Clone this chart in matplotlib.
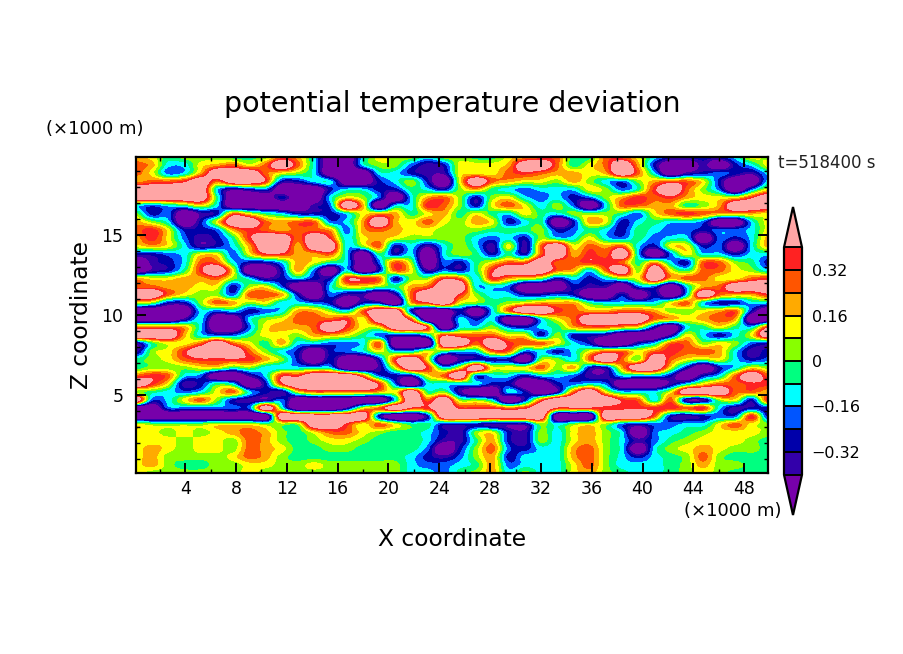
import numpy as np
import matplotlib
matplotlib.use("Agg")
import matplotlib.pyplot as plt
from matplotlib.colors import ListedColormap, BoundaryNorm

# Bin for each grid cell, one string per height (top row first)
theta_rows = [
    "AYGLLLGGLOACVVCYLLCL" "LGGYAOOGGOOYCNNNNCYL",
    "OACCYAOYOPOCVVCLLBIN" "YYYAPPOGYOPANVVIVNCY",
    "OYBCAPPPOYLCVVVCCNII" "YYYOROAAYAPOCVINBNIC",
    "AOORPOPPRNNCCVVNCLNV" "YPOAYYLALCBLAOOYNVVC",
    "PPPPPCINBVVVNCCNNGCN" "LAGCBCCCYLBGRPOLBVBY",
    "PPPPPGVVVNVVCYLBVCAO" "LNLYCBCNBLARORAYYYRP",
    "CBCGYCVVVVVIBPAVCCRO" "LNYOYCLBVCOOAAGLAPPP",
    "LNBVINOYGCNNNCYAAGYA" "GYGCYGCLLLGBYOROAAAY",
    "ALCVNYPPOAOOBCAPAYOY" "LAYNCGVNAYNCGCCBVVCY",
    "ORYNNBAROAOOABAOAYYL" "LLGGGLNBGCNGCBBNBBCY",
    "ARYBINGRPPOPRCYAYLLL" "LCBCNLCCYCBGBCCVBNCA",
    "YAYCINCAPPAPPCLONCIC" "LCIYIOPYOAOCNYYNBVCA",
    "NNBCYYBYRRAAOCVGNCVC" "LGNGNOPAROPCVBYCCNCC",
    "VINCOOCNNCAYGCVBOLVB" "NGYOOPOORROGACNOOLGN",
    "VINGRPYVVNABVCVNOYIB" "NGRPPPOACOPLPYGOOYLC",
    "AYYAAOLCINCNNRRONLLR" "OCRAYLNCNCLYPAOOYYOR",
    "OOAAYYNLYBVVCYYLGAOP" "PCCBVVVNIIVBBVCAOPPP",
    "PPOYLLBOOANVBIIVIOPP" "RLCCNNBNVVNVNVCPOAAR",
    "YLNNLOALYCCBNVNNVARP" "YLGLYAAAGCCCCYOCNNCC",
    "VVVVCBCNBCAALCOPPNVV" "NVCOPPROAAOOALLYAONV",
    "VVVICVVCLYOOORYPPOVV" "CNCVVCYOPPPPOAYAOAVV",
    "OOOACVVBYAAOPRYYPPRV" "CCLBNCGAOOAYNVCGYGCR",
    "PPPACBBGYYLAAYGBNNCR" "OOOYYNLNNIVVVIYCNCYP",
    "IGYYOPOYGACCBBCOVVVP" "POPROOYCNVVNCOOLYLBN",
    "ILYRPPPOLCNVNBCYCCYG" "CCOOBCNCYOOYOROOACIN",
    "GLYORRRRALNVNVVNRPYV" "INNNVLLCOPOLPOYLYCNB",
    "GLLLYYGLCCCCCVVIYPRC" "YPYYYOLANNAPPYNVNCYL",
    "OROCBVVICRRPPPOBNNYO" "PBCCNCCBIICCCNVNCOPO",
    "PRYINGCVNRPPPPPRBVCC" "CCNNVVNBCBVVVICYOORR",
    "LGCBCYOCNIYOOOOAYPGL" "IVVCNVIOPYCCCYPPPOOA",
    "PBCYOLNIIBVVVVVVCPOP" "LLCVNOPPPPROCOIILYNR",
    "VVBBBBBBPGVVVIYOPRRP" "RRRORPRRRRRRRRORCINN",
    "VVVVVVVVVPPPPPPNVVNP" "PPPPPPVVVPPPONINBBRN",
    "YLLLLYYYLLLPPRYOYGGN" "NNIIILCLYLBNBBCCYOYL",
    "YYLYLYAOALGYOOYLGGCN" "ILYNILCYALCVBCGLYYYL",
    "YYYLYYLOALGLYYLGGGCI" "IGANILCYALCIBGLYYYLG",
    "YAYLYYLOAYGGLLGGGGBV" "NLOBNCCAOLCVCLYAYLLG",
    "YALLLLYOALGGGGGGGCNI" "BLANCCCAOLCNCGLOLGGG",
    "YALGGLLYYLLYLLLLLCBB" "CGABCCCYOLCCCGLALLGG",
    "YLLLLLLYLLLLLLLLLCCB" "GLACLCCYALGCCGLYLGGG",
]
# Deviation in kelvin represented by each letter
bin_values = {"P": 0.60, "R": 0.36, "O": 0.28, "A": 0.20, "Y": 0.12, "L": 0.04,
              "G": -0.04, "C": -0.12, "B": -0.20, "N": -0.28, "I": -0.36, "V": -0.60}
levels = [-0.40, -0.32, -0.24, -0.16, -0.08, 0.0, 0.08, 0.16, 0.24, 0.32, 0.40]
inner_colors = ["#3300AA", "#0000AA", "#0055FF", "#00FFFF", "#00FF80",
                "#88FF00", "#FFFF00", "#FFAA00", "#FF5500", "#FF2222"]
under_color = "#7700AA"
over_color = "#FFA5A5"
cbar_ticks = [-0.32, -0.16, 0.0, 0.16, 0.32]
cbar_labels = ["\u22120.32", "\u22120.16", "0", "0.16", "0.32"]
x_ticks = [4, 8, 12, 16, 20, 24, 28, 32, 36, 40, 44, 48]
z_ticks = [5, 10, 15]

W, H = 904, 654
XMIN, XMAX, ZMIN, ZMAX = 0.125, 49.875, 0.125, 19.875
theta = np.array([[bin_values[c] for c in row] for row in theta_rows])
nz, nx = theta.shape
dx = (XMAX - XMIN) / (nx - 1)
dz = (ZMAX - ZMIN) / (nz - 1)

plt.rcParams["font.family"] = "DejaVu Sans"
fig = plt.figure(figsize=(W / 100, H / 100), dpi=100, facecolor="white")
ax = fig.add_axes([136 / W, 1 - 473 / H, 632 / W, 316 / H])

cmap = ListedColormap(inner_colors).with_extremes(under=under_color, over=over_color)
norm = BoundaryNorm(levels, cmap.N)
im = ax.imshow(theta, cmap=cmap, norm=norm, aspect="auto", origin="upper",
               interpolation="catrom", interpolation_stage="data",
               extent=[XMIN - dx / 2, XMAX + dx / 2, ZMIN - dz / 2, ZMAX + dz / 2])

ax.set_xlim(XMIN, XMAX)
ax.set_ylim(ZMIN, ZMAX)
ax.set_xticks(x_ticks)
ax.set_yticks(z_ticks)
ax.set_xticks(np.arange(2, 50, 2), minor=True)
ax.set_yticks(np.arange(1, 20, 1), minor=True)
ax.tick_params(which="both", direction="in", top=True, right=True, width=1.4, color="black")
ax.tick_params(which="major", length=7.5, labelsize=12.5)
ax.tick_params(which="minor", length=3, width=1)
ax.tick_params(axis="x", which="major", pad=5)
ax.tick_params(axis="y", which="major", pad=9)
for s in ax.spines.values():
    s.set_linewidth(1.6)

cax = fig.add_axes([784 / W, 1 - 515 / H, 18 / W, 308 / H])
cb = fig.colorbar(im, cax=cax, extend="both", extendfrac=40 / 226, drawedges=True)
cb.set_ticks(cbar_ticks)
cb.set_ticklabels(cbar_labels)
cb.minorticks_off()
cb.ax.tick_params(length=0, labelsize=11.5, pad=7)
cb.outline.set_linewidth(1.6)
cb.dividers.set_linewidth(1.4)
cb.dividers.set_color("black")


def put(px, py, s, **kw):
    fig.text(px / W, 1 - py / H, s, va="center", **kw)


put(452, 104, "potential temperature deviation", ha="center", fontsize=20.5)
put(452, 539, "X coordinate", ha="center", fontsize=16.8)
put(82, 315, "Z coordinate", ha="center", rotation=90, fontsize=16.8)
put(95, 129, "(\u00d71000 m)", ha="center", fontsize=13)
put(733, 511, "(\u00d71000 m)", ha="center", fontsize=13)
put(827, 163, "t=518400 s", ha="center", fontsize=12, color="#222222")

fig.savefig("out.png", dpi=100)
